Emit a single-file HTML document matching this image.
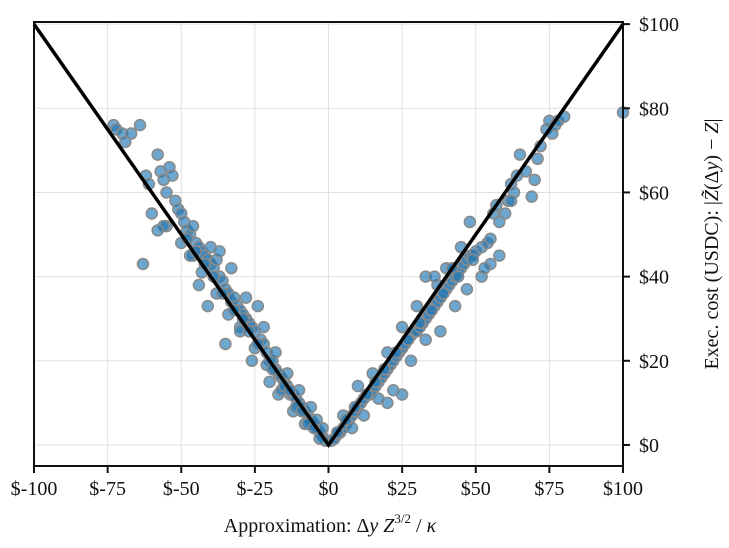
<!DOCTYPE html>
<html><head><meta charset="utf-8"><style>
html,body{margin:0;padding:0;background:#fff;}
svg text{font-family:"Liberation Serif",serif;fill:#111;}
</style></head><body>
<svg id="chart" width="729" height="543" viewBox="0 0 729 543" xmlns="http://www.w3.org/2000/svg">
<g id="grid"></g>
<g id="points"></g>
<g id="lines"></g>
<rect x="34" y="22" width="589" height="444" fill="none" stroke="#111" stroke-width="2"/>
<g id="xticks"></g>
<g id="yticks"></g>
<text x="330" y="532" font-size="20" text-anchor="middle">Approximation: Δ<tspan font-style="italic">y Z</tspan><tspan font-size="13" dy="-9">3/2</tspan><tspan dy="9"> / </tspan><tspan font-style="italic">κ</tspan></text>
<text transform="translate(718,244) rotate(-90)" font-size="20" text-anchor="middle">Exec. cost (USDC): |<tspan font-style="italic">Z̃</tspan>(Δ<tspan font-style="italic">y</tspan>) − <tspan font-style="italic">Z</tspan>|</text>
</svg>
<script>
const xTickValues=[-100,-75,-50,-25,0,25,50,75,100];
const xTickLabels=["$-100","$-75","$-50","$-25","$0","$25","$50","$75","$100"];
const yTickValues=[0,20,40,60,80,100];
const yTickLabels=["$0","$20","$40","$60","$80","$100"];
const lineX=[-100,0,100];
const lineY=[100,0,100];
const pointsX=[-73,-72,-70,-69,-67,-64,-62,-61,-60,-63,-58,-57,-56,-55,-54,-53,-52,-51,-50,-49,-48,-47,-46,-45,-44,-43,-42,-41,-40,-39,-38,-37,-36,-35,-34,-33,-32,-31,-30,-29,-28,-27,-26,-25,-24,-23,-22,-21,-20,-19,-18,-17,-16,-15,-14,-13,-12,-11,-10,-9,-8,-7,-6,-5,-4,-3,-2,-1,-44,-41,-35,-30,-26,-20,-17,-12,-8,-46,-40,-37,-33,-28,-22,-18,-14,-10,-6,-55,-50,-47,-43,-38,-34,-30,-25,-21,-16,-11,-7,-3,-2,-56,-58,
-48,-45,-42,-39,-36,-32,-29,-27,-24,-19,-15,-13,-9,-5,-4,
1,2,3,4,5,6,7,8,9,10,11,12,13,14,15,16,17,18,19,20,21,22,23,24,25,26,27,28,29,30,31,32,33,34,35,36,37,38,39,40,41,42,43,44,45,46,47,48,49,50,52,54,55,56,57,58,60,61,62,63,64,65,67,70,71,72,74,75,76,77,78,80,100,10,15,20,25,30,33,37,40,45,48,22,25,20,28,33,38,43,47,52,55,58,36,42,5,8,12,17,62,69,53,
3,6,9,13,16,19,23,27,31,35,39,44,49];
const pointsY=[76,75,74,72,74,76,64,62,55,43,69,65,63,60,66,64,58,56,55,53,51,50,52,48,47,46,45,44,43,42,44,40,39,37,36,34,35,33,32,31,30,29,28,27,33,25,24,22,20,20,18,17,16,15,14,12,12,11,10,9,8,7,6,5,4,3,2,1,38,33,24,28,20,15,12,8,5,45,47,46,42,35,28,22,17,13,9,52,48,45,41,36,31,27,23,19,13,9,5,1.5,4,52,51,
49,46,43,40,36,32,30,27,24,18,14,13,8,4,6,
1,1.5,2.5,3,4,5,6,7,8,9,10,11,12,12,13,14,15,16,17,18,19,20,21,22,23,24,25,26,27,27,28,29,30,31,32,33,34,35,36,37,38,39,40,41,42,43,44,45,45,46,47,48,49,55,57,53,55,58,62,60,64,69,65,63,68,71,75,77,74,76,77,78,79,14,17,22,28,33,40,38,42,47,53,13,12,10,20,25,27,33,37,40,43,45,40,42,7,4,7,11,58,59,42,
3,6,9,12,15,18,22,25,29,32,36,40,44];
const X0=34,X1=623,Y0=466,Y1=22,XMIN=-100,XMAX=100,YMIN=-5,YMAX=100.5;
function sx(v){return X0+(v-XMIN)/(XMAX-XMIN)*(X1-X0);}
function sy(v){return Y0-(v-YMIN)/(YMAX-YMIN)*(Y0-Y1);}
const NS="http://www.w3.org/2000/svg";
function mk(tag,attrs,parent){const e=document.createElementNS(NS,tag);for(const k in attrs)e.setAttribute(k,attrs[k]);parent.appendChild(e);return e;}
const grid=document.getElementById('grid'),xt=document.getElementById('xticks'),yt=document.getElementById('yticks');
xTickValues.forEach((v,i)=>{
  const x=sx(v);
  const g=mk('line',{x1:x,x2:x,y1:Y1,y2:Y0,stroke:'#e0e0e0','stroke-width':1},grid);
  
  
  const t=mk('line',{x1:x,x2:x,y1:Y0,y2:Y0+7,stroke:'#111','stroke-width':2},xt);
  
  
  const l=mk('text',{x:x,y:Y0+29,'font-size':20,'text-anchor':'middle'},xt);
  l.textContent=xTickLabels[i];
  
  
});
yTickValues.forEach((v,i)=>{
  const y=sy(v);
  const g=mk('line',{x1:X0,x2:X1,y1:y,y2:y,stroke:'#e0e0e0','stroke-width':1},grid);
  
  
  const t=mk('line',{x1:X1,x2:X1+7,y1:y,y2:y,stroke:'#111','stroke-width':2},yt);
  
  
  const l=mk('text',{x:X1+16,y:y+7,'font-size':20,'text-anchor':'start'},yt);
  l.textContent=yTickLabels[i];
  
  
});
const pg=document.getElementById('points');
pointsX.forEach((v,i)=>{
  const c=mk('circle',{cx:sx(v),cy:sy(pointsY[i]),r:5.5,fill:'rgba(31,119,180,0.65)',stroke:'#8a8a8a','stroke-width':1.5},pg);
  
  
});
const lp=document.getElementById('lines');
const pl=mk('polyline',{points:lineX.map((v,i)=>sx(v)+','+sy(lineY[i])).join(' '),fill:'none',stroke:'#000','stroke-width':3.5},lp);


</script>
</body></html>
